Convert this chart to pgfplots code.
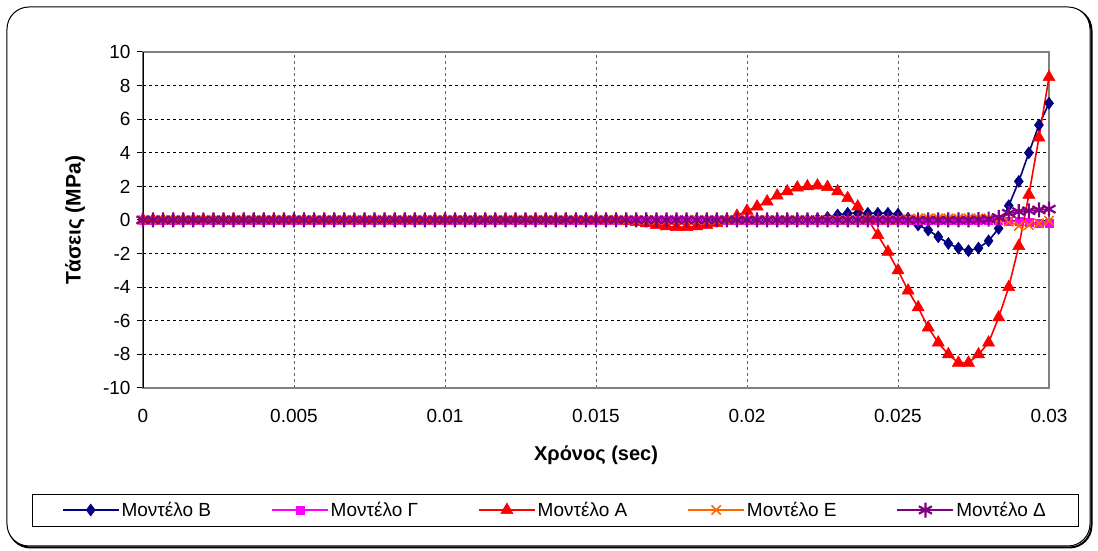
\documentclass[border=0pt]{standalone}
\usepackage{fontspec}
\setmainfont{Liberation Sans}
\usepackage{pgfplots}
\pgfplotsset{compat=1.18}
\usepackage{pgfplotstable}
\definecolor{serB}{RGB}{0,0,128}
\definecolor{serG}{RGB}{255,0,255}
\definecolor{serA}{RGB}{255,0,0}
\definecolor{serE}{RGB}{255,102,0}
\definecolor{serD}{RGB}{128,0,128}
\definecolor{frameGray}{RGB}{128,128,128}

\pgfplotstableread{
i B G A E D
0 0 0 0 0 0
1 0 0 0 0 0
2 0 0 0 0 0
3 0 0 0 0 0
4 0 0 0 0 0
5 0 0 0 0 0
6 0 0 0 0 0
7 0 0 0 0 0
8 0 0 0 0 0
9 0 0 0 0 0
10 0 0 0 0 0
11 0 0 0 0 0
12 0 0 0 0 0
13 0 0 0 0 0
14 0 0 0 0 0
15 0 0 0 0 0
16 0 0 0 0 0
17 0 0 0 0 0
18 0 0 0 0 0
19 0 0 0 0 0
20 0 0 0 0 0
21 0 0 0 0 0
22 0 0 0 0 0
23 0 0 0 0 0
24 0 0 0 0 0
25 0 0 0 0 0
26 0 0 0 0 0
27 0 0 0 0 0
28 0 0 0 0 0
29 0 0 0 0 0
30 0 0 0 0 0
31 0 0 0 0 0
32 0 0 0 0 0
33 0 0 0 0 0
34 0 0 0 0 0
35 0 0 0 0 0
36 0 0 0 0 0
37 0 0 0 0 0
38 0 0 0 0 0
39 0 0 0 0 0
40 0 0 0 0 0
41 0 0 0 0 0
42 0 0 0 0 0
43 0 0 0 0 0
44 0 0 0 0 0
45 0 0 0 0 0
46 0 0 0 0 0
47 0 0 0 0 0
48 0 0 -0.05 0 0
49 0 0 -0.12 0 0
50 0 0 -0.2 0 0
51 0 0 -0.3 0 0
52 0 0 -0.38 0 0
53 0 0 -0.42 0 0
54 0 0 -0.42 0 0
55 0 0 -0.38 0 0
56 0 0 -0.3 0 0
57 0 0 -0.18 0 0
58 0 0 0 0 0
59 0 0 0.25 0 0
60 0 0 0.55 0 0
61 0 0 0.8 0 0
62 0 0 1.1 0 0
63 0 0 1.45 0 0
64 0 0 1.7 0 0
65 0 0 1.93 0 0
66 0.02 0 2.0 0 0
67 0.05 0 2.05 0 0
68 0.15 0 1.96 0 0
69 0.3 0 1.7 0 0
70 0.4 0 1.3 0 0
71 0.4 0 0.8 0 0
72 0.4 0 0.05 0 0
73 0.4 0 -0.9 0 0
74 0.4 0 -1.9 0 0
75 0.35 0 -3.0 0 0
76 0.1 0 -4.2 0.05 0
77 -0.3 0 -5.2 0.1 0
78 -0.6 0 -6.4 0.1 0
79 -1.0 0 -7.3 0.1 0
80 -1.4 0 -8.0 0.1 0
81 -1.67 0 -8.5 0.1 0
82 -1.83 0 -8.5 0.1 0
83 -1.67 0 -8.0 0.1 0.02
84 -1.24 0 -7.3 0.1 0.05
85 -0.5 -0.02 -5.8 0.05 0.15
86 0.85 -0.05 -4.0 -0.1 0.4
87 2.3 -0.1 -1.55 -0.35 0.5
88 4.0 -0.15 1.5 -0.3 0.55
89 5.65 -0.2 4.9 -0.2 0.6
90 6.95 -0.2 8.5 -0.05 0.65
}\data

\begin{document}
\begin{tikzpicture}
% page extent (1098 x 551)
\path (-143pt,-163pt) rectangle (955pt,388pt);
% outer rounded frame with shadow
\draw[black, line width=2pt, rounded corners=22pt] (-134.5pt,-159.5pt) rectangle (948.5pt,379.5pt);
\draw[black, line width=1pt, fill=white, rounded corners=22pt] (-136pt,-158pt) rectangle (947pt,381pt);
\begin{axis}[
  at={(0pt,0pt)}, anchor=south west,
  scale only axis, width=906pt, height=336pt,
  xmin=0, xmax=0.03, ymin=-10, ymax=10,
  scaled x ticks=false, scaled y ticks=false,
  xtick={0,0.005,0.01,0.015,0.02,0.025,0.03},
  xticklabels={0,0.005,0.01,0.015,0.02,0.025,0.03},
  ytick={-10,-8,-6,-4,-2,0,2,4,6,8,10},
  yticklabels={-10,-8,-6,-4,-2,0,2,4,6,8,10},
  tick label style={font=\fontsize{19}{22}\selectfont, text=black},
  xticklabel style={yshift=-12pt},
  yticklabel style={xshift=-3pt},
  xtick style={draw=none},
  ytick style={black, line width=1pt},
  ytick pos=left, xtick pos=bottom,
  tick align=outside, major tick length=6pt,
  grid=major,
  x grid style={black!60, line width=0.8pt, dash pattern=on 3pt off 3pt},
  y grid style={black, line width=0.7pt, dash pattern=on 3pt off 3pt},
  axis line style={frameGray, line width=1.4pt},
  xlabel={\bfseries Χρόνος (sec)},
  ylabel={\bfseries Τάσεις (MPa)},
  every axis x label/.style={at={(axis description cs:0.5,-0.199)}, anchor=center, font=\fontsize{20}{24}\selectfont},
  every axis y label/.style={at={(axis description cs:-0.0751,0.5)}, rotate=90, anchor=center, font=\fontsize{21}{24}\selectfont},
  legend columns=5,
  legend style={at={(0.4547,-0.3631)}, anchor=center, draw=black, line width=0.8pt,
    font=\fontsize{19}{22}\selectfont, inner xsep=30pt, inner ysep=6pt,
    /tikz/every even column/.append style={column sep=58pt}},
  legend image code/.code={\draw[mark repeat=2, mark phase=2] plot coordinates {(0pt,0pt) (28pt,0pt) (56pt,0pt)};},
  legend cell align=left,
]
\addplot[serB, line width=1.6pt, mark=diamond*, mark size=6pt, mark options={solid, fill=serB, line width=0.5pt}]
  table[x expr=\thisrow{i}/3000, y=B] {\data};
\addlegendentry{Μοντέλο Β}
\addplot[serG, line width=1.6pt, mark=square*, mark size=4pt, mark options={solid, fill=serG, line width=0.5pt}]
  table[x expr=\thisrow{i}/3000, y=G] {\data};
\addlegendentry{Μοντέλο Γ}
\addplot[serA, line width=1.6pt, mark=triangle*, mark size=7pt, mark options={solid, fill=serA, line width=0.5pt}]
  table[x expr=\thisrow{i}/3000, y=A] {\data};
\addlegendentry{Μοντέλο Α}
\addplot[serE, line width=1.6pt, mark=x, mark size=6.5pt, mark options={solid, line width=1.6pt}]
  table[x expr=\thisrow{i}/3000, y=E] {\data};
\addlegendentry{Μοντέλο Ε}
\addplot[serD, line width=1.8pt, mark=asterisk, mark size=7.5pt, mark options={solid, line width=2.2pt}]
  table[x expr=\thisrow{i}/3000, y=D] {\data};
\addlegendentry{Μοντέλο Δ}
\draw[black, line width=1.4pt] (axis cs:0,-10) -- (axis cs:0,10);
\end{axis}
\end{tikzpicture}
\end{document}
